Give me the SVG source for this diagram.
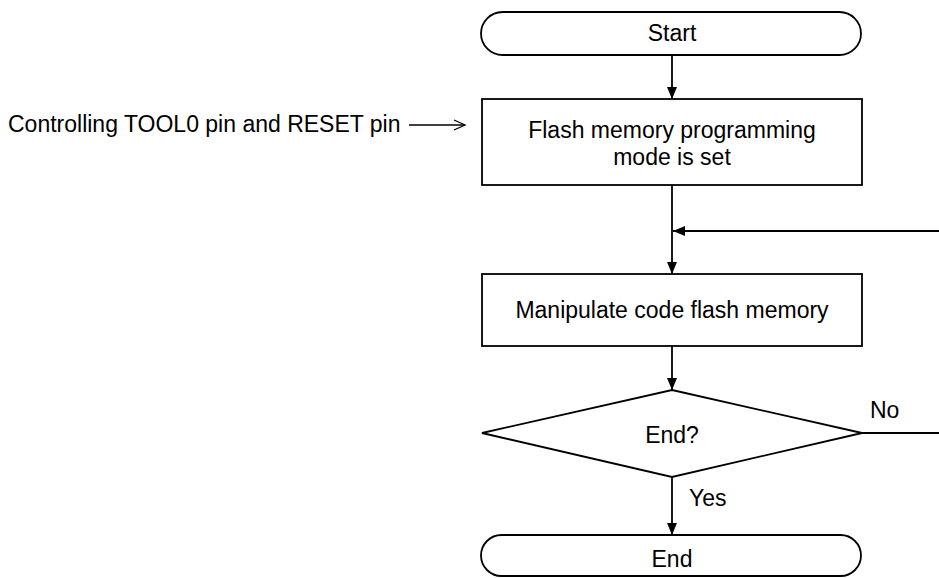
<svg xmlns="http://www.w3.org/2000/svg" width="939" height="578" viewBox="0 0 939 578">
<style>
.s{fill:#fff;stroke:#000;stroke-width:1.8}
.l{fill:none;stroke:#000;stroke-width:1.8}
text{font-family:"Liberation Sans",Arial,sans-serif;font-size:23px;fill:#000}
.c{text-anchor:middle}
</style>
<defs>
<marker id="ah" markerWidth="12" markerHeight="10" refX="12" refY="5" orient="auto" markerUnits="userSpaceOnUse">
<path d="M0,0 L12,5 L0,10 Z" fill="#000"/>
</marker>
</defs>
<rect width="939" height="578" fill="#fff"/>
<g id="connectors">
<line class="l" x1="672" y1="55" x2="672" y2="99" marker-end="url(#ah)"/>
<line class="l" x1="672" y1="185" x2="672" y2="274" marker-end="url(#ah)"/>
<line class="l" x1="939" y1="231" x2="673" y2="231" marker-end="url(#ah)"/>
<line class="l" x1="672" y1="346" x2="672" y2="390" marker-end="url(#ah)"/>
<line class="l" x1="862" y1="433" x2="939" y2="433"/>
<line class="l" x1="672" y1="477" x2="672" y2="535" marker-end="url(#ah)"/>
<g id="tool-arrow">
<line x1="409" y1="125" x2="465" y2="125" stroke="#000" stroke-width="1.3"/>
<polyline points="454,120 465,125 454,130" fill="none" stroke="#000" stroke-width="1.3"/>
</g>
<text x="870" y="418">No</text>
<text x="689" y="506">Yes</text>
</g>
<g id="start">
<rect class="s" x="481" y="12" width="380" height="43" rx="21.5"/>
<text class="c" x="672" y="41">Start</text>
</g>
<g id="label">
<text x="8" y="132">Controlling TOOL0 pin and RESET pin</text>
</g>
<g id="setmode">
<rect class="s" x="482" y="99" width="380" height="86"/>
<text class="c" x="672" y="138">Flash memory programming</text>
<text class="c" x="672" y="165">mode is set</text>
</g>
<g id="manipulate">
<rect class="s" x="482" y="274" width="380" height="72"/>
<text class="c" x="672" y="318">Manipulate code flash memory</text>
</g>
<g id="decision">
<polygon class="s" points="672,390 862,433 672,477 482,433"/>
<text class="c" x="672" y="443">End?</text>
</g>
<g id="end">
<rect class="s" x="481" y="535" width="380" height="41" rx="20.5"/>
<text class="c" x="672" y="567">End</text>
</g>
</svg>
